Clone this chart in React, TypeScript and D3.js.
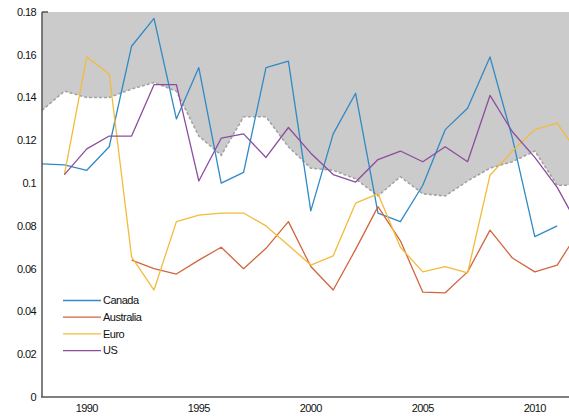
import React from "react";
import * as d3 from "d3";

// Years on the horizontal axis
const years: number[] = d3.range(1988, 2013);

// Lower edge of the shaded band (top edge is the axis maximum)
const bandFloor: number[] = [
  0.134, 0.143, 0.140, 0.140, 0.144, 0.147, 0.143, 0.122, 0.113, 0.131,
  0.131, 0.117, 0.107, 0.106, 0.102, 0.094, 0.103, 0.095, 0.094, 0.101,
  0.107, 0.110, 0.115, 0.099, 0.099,
];

// Series values, indexed by year starting at 1988 (null = no data)
const canada: (number | null)[] = [
  0.109, 0.1085, 0.106, 0.117, 0.164, 0.177, 0.130, 0.154, 0.100, 0.105,
  0.154, 0.157, 0.087, 0.123, 0.142, 0.086, 0.082, 0.099, 0.125, 0.135,
  0.159, 0.121, 0.075, 0.080, null,
];
const australia: (number | null)[] = [
  null, null, null, null, 0.064, 0.060, 0.0575, 0.064, 0.070, 0.060,
  0.0695, 0.082, 0.061, 0.050, 0.069, 0.089, 0.073, 0.049, 0.0487, 0.0585,
  0.078, 0.065, 0.0585, 0.0617, 0.078,
];
const euro: (number | null)[] = [
  null, 0.104, 0.159, 0.151, 0.0655, 0.050, 0.082, 0.085, 0.086, 0.086,
  0.080, 0.071, 0.0617, 0.066, 0.0906, 0.095, 0.070, 0.0585, 0.061, 0.058,
  0.1037, 0.115, 0.125, 0.128, 0.113,
];
const us: (number | null)[] = [
  null, 0.104, 0.116, 0.122, 0.122, 0.146, 0.146, 0.101, 0.121, 0.123,
  0.112, 0.126, 0.114, 0.104, 0.1005, 0.111, 0.115, 0.110, 0.117, 0.110,
  0.141, 0.124, 0.112, 0.098, 0.079,
];

const seriesNames = ["Canada", "Australia", "Euro", "US"];
const seriesColors = ["#2f8ac6", "#d2653e", "#f2bb3c", "#8d4c9e"];
const seriesData = [canada, australia, euro, us];

const yTicks = [0, 0.02, 0.04, 0.06, 0.08, 0.1, 0.12, 0.14, 0.16, 0.18];
const xTicks = [1990, 1995, 2000, 2005, 2010];

const W = 569;
const H = 416;

export default function App() {
  const x = d3.scaleLinear().domain([1988, 2012]).range([42, 42 + 24 * 22.4]);
  const y = d3.scaleLinear().domain([0, 0.18]).range([397, 12]);

  const band = d3
    .area<number>()
    .x((_, i) => x(years[i]))
    .y0(() => y(0.18))
    .y1((d) => y(d));

  const bandLine = d3
    .line<number>()
    .x((_, i) => x(years[i]))
    .y((d) => y(d));

  const seriesLine = d3
    .line<number | null>()
    .defined((d) => d !== null)
    .x((_, i) => x(years[i]))
    .y((d) => y(d as number));

  const font = "'Liberation Sans', Arial, sans-serif";

  return (
    <svg
      width={W}
      height={H}
      style={{ position: "absolute", left: 0, top: 0, background: "#fff" }}
      fontFamily={font}
    >
      <defs>
        <clipPath id="plot">
          <rect x={42} y={0} width={W - 42} height={398} />
        </clipPath>
      </defs>
      <g clipPath="url(#plot)">
        <path d={band(bandFloor) ?? ""} fill="#cbcbcb" />
        <path
          d={bandLine(bandFloor) ?? ""}
          fill="none"
          stroke="#a3a3a3"
          strokeWidth={1.6}
          strokeDasharray="3,2"
        />
        {seriesData.map((s, k) => (
          <path
            key={seriesNames[k]}
            d={seriesLine(s) ?? ""}
            fill="none"
            stroke={seriesColors[k]}
            strokeWidth={1.3}
            strokeLinejoin="round"
          />
        ))}
      </g>

      {/* axes */}
      <line x1={42} x2={42} y1={12} y2={397} stroke="#555" strokeWidth={1.5} />
      <line x1={41} x2={W} y1={397} y2={397} stroke="#555" strokeWidth={1.5} />
      <line x1={42} x2={48} y1={12} y2={12} stroke="#555" strokeWidth={1.5} />

      {yTicks.map((t) => (
        <text
          key={t}
          x={36}
          y={y(t)}
          dy="0.35em"
          textAnchor="end"
          fontSize={11}
          letterSpacing={-0.6}
          fill="#111"
        >
          {d3.format("")(+t.toFixed(2))}
        </text>
      ))}
      {xTicks.map((t) => (
        <text
          key={t}
          x={x(t)}
          y={412}
          textAnchor="middle"
          fontSize={11}
          letterSpacing={-0.6}
          fill="#111"
        >
          {t}
        </text>
      ))}

      {/* legend */}
      {seriesNames.map((n, k) => (
        <g key={n} transform={`translate(0, ${300.5 + k * 16.7})`}>
          <line x1={63} x2={101} y1={0} y2={0} stroke={seriesColors[k]} strokeWidth={1.3} />
          <text x={103} y={0} dy="0.35em" fontSize={11} letterSpacing={-0.5} fill="#111">
            {n}
          </text>
        </g>
      ))}
    </svg>
  );
}
